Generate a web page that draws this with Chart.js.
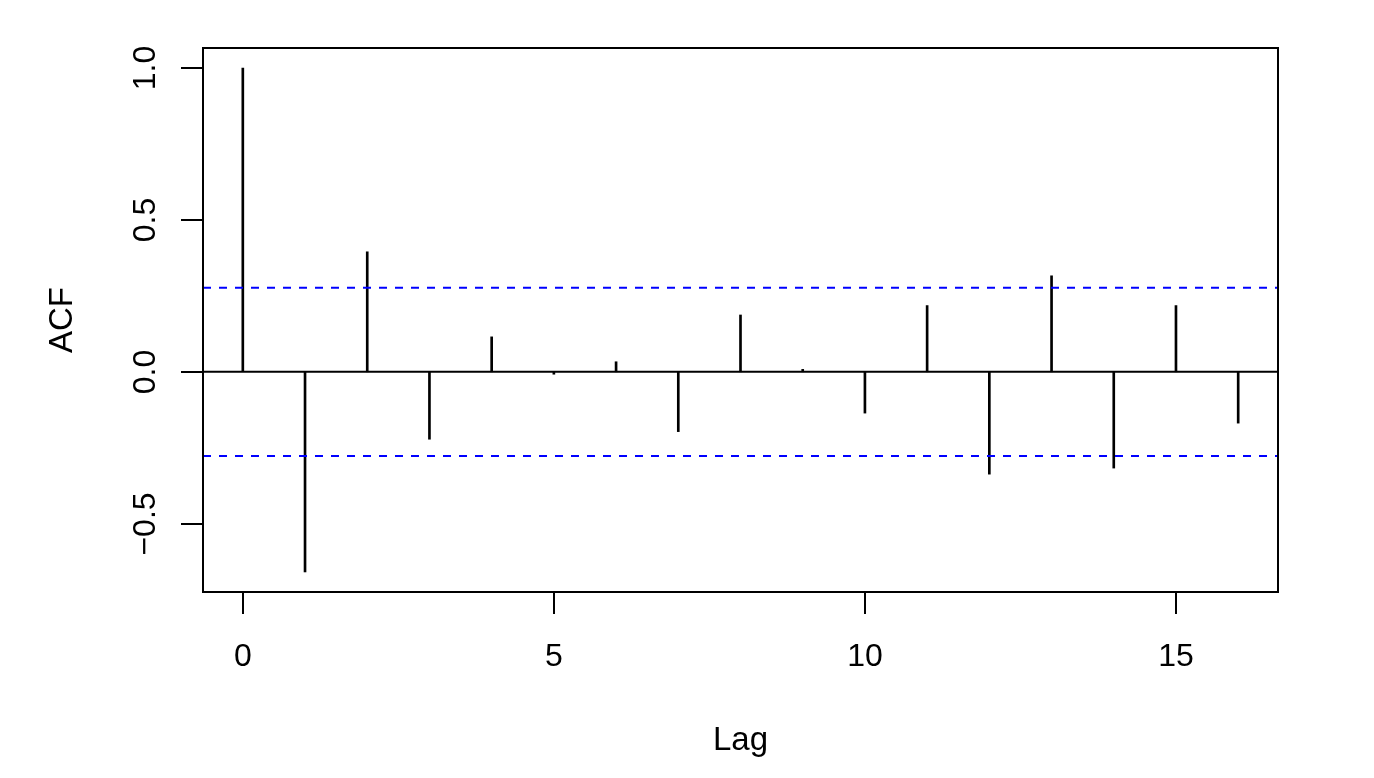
<!DOCTYPE html>
<html>
<head>
<meta charset="utf-8">
<script src="https://cdn.jsdelivr.net/npm/chart.js@4/dist/chart.umd.min.js"></script>
<style>
  html, body { margin: 0; padding: 0; background: #fff; }
  #wrap { width: 1374px; height: 778px; position: relative; }
</style>
</head>
<body>
<div id="wrap"><canvas id="acfChart"></canvas></div>
<script>
(() => {
  'use strict'

  // ACF values by lag
  const lags = [0, 1, 2, 3, 4, 5, 6, 7, 8, 9, 10, 11, 12, 13, 14, 15, 16]
  const acf = [1.0, -0.659, 0.395, -0.222, 0.115, -0.008, 0.033, -0.197, 0.187, 0.008,
    -0.136, 0.218, -0.337, 0.316, -0.317, 0.218, -0.169]
  const ciBound = 0.277
  const xTicks = [0, 5, 10, 15]
  const yTicks = [-0.5, 0.0, 0.5, 1.0]
  const yTickLabels = ['\u22120.5', '0.0', '0.5', '1.0']
  const xRange = [-0.64, 16.64]
  const yRange = [-0.725, 1.066]

  const FONT = '"Liberation Sans", Arial, Helvetica, sans-serif'

  // R style box, axes and titles
  const rAxes = {
    id: 'rAxes',
    afterDraw (chart) {
      const { ctx, chartArea: a, scales } = chart
      const xs = scales.x
      const ys = scales.y
      ctx.save()
      ctx.strokeStyle = '#000'
      ctx.fillStyle = '#000'
      ctx.lineWidth = 2
      ctx.strokeRect(a.left, a.top, a.right - a.left, a.bottom - a.top)

      // x axis
      ctx.font = '32px ' + FONT
      ctx.textAlign = 'center'
      ctx.textBaseline = 'alphabetic'
      xTicks.forEach(v => {
        const px = Math.round(xs.getPixelForValue(v))
        ctx.beginPath()
        ctx.moveTo(px, a.bottom)
        ctx.lineTo(px, a.bottom + 22)
        ctx.stroke()
        ctx.fillText(String(v), px, a.bottom + 74)
      })

      // y axis
      yTicks.forEach((v, i) => {
        const py = Math.round(ys.getPixelForValue(v))
        ctx.beginPath()
        ctx.moveTo(a.left, py)
        ctx.lineTo(a.left - 22, py)
        ctx.stroke()
        ctx.save()
        ctx.translate(a.left - 48, py)
        ctx.rotate(-Math.PI / 2)
        ctx.fillText(yTickLabels[i], 0, 0)
        ctx.restore()
      })

      // titles
      ctx.font = '33px ' + FONT
      ctx.fillText('Lag', (a.left + a.right) / 2, a.bottom + 158)
      ctx.save()
      ctx.translate(72, (a.top + a.bottom) / 2)
      ctx.rotate(-Math.PI / 2)
      ctx.fillText('ACF', 0, 0)
      ctx.restore()
      ctx.restore()
    }
  }

  const ctx = document.getElementById('acfChart')
  // eslint-disable-next-line no-unused-vars
  const acfChart = new Chart(ctx, {
    type: 'bar',
    data: {
      datasets: [
        {
          type: 'bar',
          data: lags.map((l, i) => ({ x: l, y: acf[i] })),
          backgroundColor: '#000',
          borderWidth: 0,
          barThickness: 2,
          order: 2
        },
        {
          type: 'line',
          data: xRange.map(x => ({ x, y: 0 })),
          borderColor: '#000',
          borderWidth: 2,
          pointRadius: 0,
          order: 1
        },
        {
          type: 'line',
          data: xRange.map(x => ({ x, y: ciBound })),
          borderColor: '#0000ff',
          borderWidth: 2,
          borderDash: [8, 8],
          pointRadius: 0,
          order: 0
        },
        {
          type: 'line',
          data: xRange.map(x => ({ x, y: -ciBound })),
          borderColor: '#0000ff',
          borderWidth: 2,
          borderDash: [8, 8],
          pointRadius: 0,
          order: 0
        }
      ]
    },
    options: {
      responsive: true,
      maintainAspectRatio: false,
      animation: false,
      layout: {
        padding: { left: 203, top: 48, right: 96, bottom: 186 }
      },
      plugins: {
        legend: { display: false },
        tooltip: { enabled: false }
      },
      scales: {
        x: {
          type: 'linear',
          display: false,
          offset: false,
          min: xRange[0],
          max: xRange[1]
        },
        y: {
          type: 'linear',
          display: false,
          min: yRange[0],
          max: yRange[1]
        }
      }
    },
    plugins: [rAxes]
  })
})()
</script>
</body>
</html>
